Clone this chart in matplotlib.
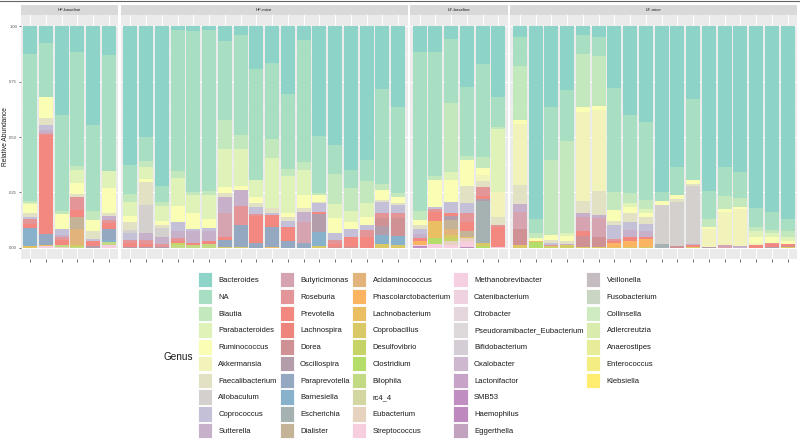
import numpy as np
import pandas as pd
import matplotlib
matplotlib.use("Agg")
import matplotlib.pyplot as plt
from matplotlib.colors import to_rgb, to_hex
from matplotlib.patches import Patch
from matplotlib.lines import Line2D

plt.rcParams['font.family'] = ['Liberation Sans', 'DejaVu Sans']

genus = ["Bacteroides", "NA", "Blautia", "Parabacteroides", "Ruminococcus", "Akkermansia",
         "Faecalibacterium", "Allobaculum", "Coprococcus", "Sutterella", "Butyricimonas",
         "Roseburia", "Prevotella", "Lachnospira", "Dorea", "Oscillospira", "Paraprevotella",
         "Barnesiella", "Escherichia", "Dialister", "Acidaminococcus", "Phascolarctobacterium",
         "Lachnobacterium", "Coprobacillus", "Desulfovibrio", "Clostridium", "Bilophila", "rc4_4",
         "Eubacterium", "Streptococcus", "Methanobrevibacter", "Catenibacterium", "Citrobacter",
         "Pseudoramibacter_Eubacterium", "Bifidobacterium", "Oxalobacter", "Lactonifactor", "SMB53",
         "Haemophilus", "Eggerthella", "Veillonella", "Fusobacterium", "Collinsella",
         "Adlercreutzia", "Anaerostipes", "Enterococcus", "Klebsiella"]

facets = ["HF-baseline", "HF-mice", "LF-baseline", "LF-mice"]

# relative abundance per sample (genera not listed are 0)
hf_baseline = [
    {"Bacteroides": .126, "NA": .662, "Blautia": .008, "Parabacteroides": .005, "Ruminococcus": .04,
     "Faecalibacterium": .02, "Coprococcus": .01, "Roseburia": .02, "Prevotella": .02,
     "Paraprevotella": .005, "Barnesiella": .075, "Lachnobacterium": .005, "Coprobacillus": .004},
    {"Bacteroides": .078, "NA": .242, "Ruminococcus": .096, "Faecalibacterium": .03, "Coprococcus": .022,
     "Sutterella": .012, "Butyricimonas": .005, "Roseburia": .005, "Prevotella": .448,
     "Paraprevotella": .048, "Lachnobacterium": .004, "Streptococcus": .006, "Methanobrevibacter": .004},
    {"Bacteroides": .401, "NA": .432, "Blautia": .014, "Ruminococcus": .069, "Coprococcus": .024,
     "Sutterella": .01, "Roseburia": .015, "Prevotella": .02, "Bilophila": .01, "Eubacterium": .005},
    {"Bacteroides": .116, "NA": .515, "Blautia": .018, "Parabacteroides": .06, "Ruminococcus": .048,
     "Faecalibacterium": .012, "Roseburia": .06, "Prevotella": .033, "Dialister": .054,
     "Acidaminococcus": .07, "Coprobacillus": .004, "Desulfovibrio": .007, "Bilophila": .003},
    {"Bacteroides": .446, "NA": .387, "Blautia": .041, "Ruminococcus": .052, "Faecalibacterium": .035,
     "Coprococcus": .007, "Prevotella": .022, "Oscillospira": .01},
    {"Bacteroides": .131, "NA": .521, "Parabacteroides": .079, "Ruminococcus": .11,
     "Faecalibacterium": .015, "Sutterella": .018, "Roseburia": .015, "Prevotella": .027,
     "Paraprevotella": .048, "Barnesiella": .008, "Bilophila": .014, "Streptococcus": .014},
]

hf_mice = [
    {"Bacteroides": .626, "NA": .132, "Blautia": .033, "Parabacteroides": .065, "Ruminococcus": .025,
     "Faecalibacterium": .038, "Allobaculum": .015, "Coprococcus": .03, "Roseburia": .015,
     "Prevotella": .015, "Oscillospira": .006},
    {"Bacteroides": .501, "NA": .109, "Blautia": .024, "Parabacteroides": .055, "Ruminococcus": .015,
     "Faecalibacterium": .102, "Allobaculum": .128, "Sutterella": .03, "Roseburia": .02,
     "Prevotella": .013, "Oscillospira": .003},
    {"Bacteroides": .719, "NA": .072, "Blautia": .02, "Parabacteroides": .066, "Ruminococcus": .019,
     "Faecalibacterium": .015, "Allobaculum": .041, "Sutterella": .031, "Roseburia": .012,
     "Oscillospira": .005},
    {"Bacteroides": .018, "NA": .634, "Blautia": .034, "Parabacteroides": .125, "Ruminococcus": .073,
     "Coprococcus": .039, "Sutterella": .033, "Roseburia": .012, "Prevotella": .011,
     "Desulfovibrio": .01, "Bilophila": .011},
    {"Bacteroides": .023, "NA": .723, "Blautia": .015, "Parabacteroides": .083, "Ruminococcus": .07,
     "Coprococcus": .012, "Sutterella": .05, "Roseburia": .003, "Prevotella": .006, "Bilophila": .015},
    {"Bacteroides": .018, "NA": .725, "Blautia": .018, "Parabacteroides": .11, "Ruminococcus": .04,
     "Coprococcus": .015, "Sutterella": .042, "Prevotella": .015, "Bilophila": .017},
    {"Bacteroides": .066, "NA": .357, "Blautia": .131, "Parabacteroides": .17, "Ruminococcus": .027,
     "Faecalibacterium": .018, "Sutterella": .075, "Butyricimonas": .105, "Prevotella": .015,
     "Paraprevotella": .03, "Coprobacillus": .006},
    {"Bacteroides": .041, "NA": .45, "Blautia": .063, "Parabacteroides": .167, "Ruminococcus": .018,
     "Sutterella": .072, "Roseburia": .085, "Paraprevotella": .098, "Coprobacillus": .006},
    {"Bacteroides": .194, "NA": .5, "Parabacteroides": .075, "Ruminococcus": .03,
     "Faecalibacterium": .018, "Coprococcus": .03, "Roseburia": .01, "Prevotella": .122,
     "Paraprevotella": .021},
    {"Bacteroides": .165, "NA": .345, "Blautia": .083, "Parabacteroides": .228,
     "Faecalibacterium": .02, "Coprococcus": .01, "Prevotella": .053, "Paraprevotella": .093,
     "Lachnobacterium": .003},
    {"Bacteroides": .306, "NA": .34, "Blautia": .028, "Parabacteroides": .17, "Ruminococcus": .015,
     "Faecalibacterium": .018, "Coprococcus": .027, "Prevotella": .067, "Paraprevotella": .029},
    {"Bacteroides": .063, "NA": .548, "Blautia": .038, "Parabacteroides": .112, "Ruminococcus": .06,
     "Faecalibacterium": .015, "Sutterella": .045, "Butyricimonas": .098, "Paraprevotella": .021},
    {"Bacteroides": .495, "NA": .259, "Blautia": .008, "Ruminococcus": .03, "Faecalibacterium": .005,
     "Coprococcus": .04, "Prevotella": .011, "Oscillospira": .082, "Barnesiella": .063,
     "Coprobacillus": .007},
    {"Bacteroides": .536, "NA": .131, "Blautia": .135, "Parabacteroides": .064, "Ruminococcus": .068,
     "Coprococcus": .03, "Roseburia": .02, "Prevotella": .013, "Dorea": .003},
    {"Bacteroides": .649, "NA": .082, "Blautia": .102, "Parabacteroides": .05, "Ruminococcus": .031,
     "Coprococcus": .035, "Prevotella": .048, "Dorea": .003},
    {"Bacteroides": .604, "NA": .093, "Blautia": .102, "Parabacteroides": .063, "Ruminococcus": .034,
     "Coprococcus": .023, "Roseburia": .03, "Prevotella": .051},
    {"Bacteroides": .285, "NA": .427, "Blautia": .027, "Ruminococcus": .045, "Faecalibacterium": .007,
     "Coprococcus": .05, "Roseburia": .025, "Dorea": .033, "Oscillospira": .042, "Barnesiella": .041,
     "Coprobacillus": .018},
    {"Bacteroides": .366, "NA": .388, "Blautia": .015, "Ruminococcus": .03, "Faecalibacterium": .007,
     "Coprococcus": .035, "Roseburia": .025, "Dorea": .08, "Barnesiella": .04, "Coprobacillus": .014},
]

lf_baseline = [
    {"Bacteroides": .116, "NA": .717, "Blautia": .041, "Ruminococcus": .022, "Faecalibacterium": .018,
     "Coprococcus": .022, "Sutterella": .02, "Prevotella": .015, "Phascolarctobacterium": .015,
     "Streptococcus": .007, "SMB53": .007},
    {"Bacteroides": .116, "NA": .56, "Blautia": .018, "Ruminococcus": .12, "Coprococcus": .01,
     "Roseburia": .015, "Prevotella": .038, "Lachnobacterium": .08, "Clostridium": .025,
     "Streptococcus": .018},
    {"Bacteroides": .06, "NA": .288, "Blautia": .308, "Parabacteroides": .038, "Ruminococcus": .097,
     "Coprococcus": .05, "Prevotella": .015, "Oscillospira": .018, "Dialister": .042,
     "Acidaminococcus": .025, "Coprobacillus": .015, "Desulfovibrio": .015, "Eubacterium": .014,
     "Streptococcus": .015},
    {"Bacteroides": .276, "NA": .31, "Blautia": .018, "Ruminococcus": .117, "Faecalibacterium": .078,
     "Coprococcus": .045, "Roseburia": .037, "Prevotella": .041, "Dialister": .027,
     "Lachnobacterium": .006, "Eubacterium": .015, "Streptococcus": .025, "SMB53": .005},
    {"Bacteroides": .171, "NA": .421, "Blautia": .049, "Ruminococcus": .03, "Akkermansia": .027,
     "Faecalibacterium": .026, "Roseburia": .042, "Prevotella": .015, "Oscillospira": .009,
     "Escherichia": .186, "Coprobacillus": .014, "Clostridium": .01},
    {"Bacteroides": .319, "NA": .134, "Blautia": .01, "Parabacteroides": .283, "Akkermansia": .113,
     "Faecalibacterium": .037, "Roseburia": .01, "Prevotella": .088, "Streptococcus": .006},
]

lf_mice = [
    {"Bacteroides": .051, "NA": .129, "Blautia": .243, "Ruminococcus": .018, "Akkermansia": .275,
     "Faecalibacterium": .086, "Sutterella": .034, "Butyricimonas": .078, "Dorea": .072,
     "Lachnobacterium": .007, "Coprobacillus": .007},
    {"Bacteroides": .869, "NA": .065, "Blautia": .022, "Ruminococcus": .015, "Lachnobacterium": .003,
     "Clostridium": .026},
    {"Bacteroides": .366, "NA": .238, "Blautia": .337, "Ruminococcus": .023, "Faecalibacterium": .015,
     "Coprococcus": .006, "Roseburia": .005, "Coprobacillus": .005, "Desulfovibrio": .005},
    {"Bacteroides": .288, "NA": .23, "Blautia": .416, "Parabacteroides": .012, "Ruminococcus": .025,
     "Faecalibacterium": .01, "Sutterella": .006, "Coprobacillus": .008, "Desulfovibrio": .005},
    {"Bacteroides": .041, "NA": .085, "Blautia": .24, "Ruminococcus": .023, "Akkermansia": .399,
     "Faecalibacterium": .056, "Sutterella": .018, "Butyricimonas": .064, "Prevotella": .02,
     "Dorea": .048, "Coprobacillus": .006},
    {"Bacteroides": .051, "NA": .084, "Blautia": .225, "Ruminococcus": .018, "Akkermansia": .365,
     "Faecalibacterium": .108, "Sutterella": .014, "Butyricimonas": .087, "Dorea": .045,
     "Coprobacillus": .003},
    {"Bacteroides": .281, "NA": .465, "Blautia": .083, "Ruminococcus": .049, "Faecalibacterium": .018,
     "Coprococcus": .065, "Roseburia": .009, "Prevotella": .009, "Phascolarctobacterium": .015,
     "Lachnobacterium": .006},
    {"Bacteroides": .401, "NA": .353, "Blautia": .042, "Parabacteroides": .018, "Ruminococcus": .03,
     "Faecalibacterium": .037, "Coprococcus": .038, "Sutterella": .033, "Prevotella": .015,
     "Phascolarctobacterium": .03, "Coprobacillus": .003},
    {"Bacteroides": .431, "NA": .353, "Blautia": .04, "Parabacteroides": .017, "Ruminococcus": .021,
     "Faecalibacterium": .03, "Coprococcus": .03, "Sutterella": .03, "Prevotella": .009,
     "Phascolarctobacterium": .036, "Coprobacillus": .003},
    {"Bacteroides": .746, "NA": .042, "Ruminococcus": .018, "Allobaculum": .176, "Escherichia": .018},
    {"Bacteroides": .634, "NA": .127, "Ruminococcus": .02, "Faecalibacterium": .01, "Allobaculum": .2,
     "Dorea": .009},
    {"Bacteroides": .329, "NA": .365, "Ruminococcus": .018, "Faecalibacterium": .009,
     "Allobaculum": .262, "Sutterella": .005, "Prevotella": .007, "Coprobacillus": .005},
    {"Bacteroides": .743, "NA": .128, "Blautia": .036, "Ruminococcus": .009, "Akkermansia": .078,
     "Oscillospira": .006},
    {"Bacteroides": .634, "NA": .132, "Blautia": .058, "Ruminococcus": .012, "Akkermansia": .15,
     "Butyricimonas": .014},
    {"Bacteroides": .659, "NA": .117, "Blautia": .038, "Ruminococcus": .01, "Akkermansia": .167,
     "Sutterella": .009},
    {"Bacteroides": .821, "NA": .083, "Blautia": .022, "Parabacteroides": .026, "Ruminococcus": .027,
     "Akkermansia": .006, "Roseburia": .003, "Prevotella": .012},
    {"Bacteroides": .836, "NA": .083, "Blautia": .015, "Parabacteroides": .018, "Ruminococcus": .024,
     "Roseburia": .008, "Prevotella": .01, "Oscillospira": .006},
    {"Bacteroides": .871, "NA": .055, "Blautia": .023, "Parabacteroides": .019, "Ruminococcus": .015,
     "Prevotella": .008, "Dorea": .007, "Coprobacillus": .002},
]

samples = [hf_baseline, hf_mice, lf_baseline, lf_mice]

# palette: Set3 stretched over all genera (like colorRampPalette)
set3 = ["#8DD3C7", "#FFFFB3", "#BEBADA", "#FB8072", "#80B1D3", "#FDB462",
        "#B3DE69", "#FCCDE5", "#D9D9D9", "#BC80BD", "#CCEBC5", "#FFED6F"]
anchors = np.array([to_rgb(c) for c in set3])
pos = np.linspace(0, len(set3) - 1, len(genus))
palette = [to_hex([np.interp(p, np.arange(len(set3)), anchors[:, k]) for k in range(3)]) for p in pos]
colors = dict(zip(genus, palette))

W, H = 800, 444
fig = plt.figure(figsize=(W / 100, H / 100), dpi=100)

unit, gap = 15.75, 2.6
left = 20.7
top_px, bot_px = 15, 259

for i, (name, data) in enumerate(zip(facets, samples)):
    df = pd.DataFrame(data).reindex(columns=genus).fillna(0)
    n = len(df)
    w = (n + 0.2) * unit
    ax = fig.add_axes([left / W, 1 - bot_px / H, w / W, (bot_px - top_px) / H])
    ax.set_facecolor("#EBEBEB")
    x = np.arange(n)
    bottom = np.zeros(n)
    for g in reversed(genus):
        vals = df[g].values
        if vals.sum() > 0:
            ax.bar(x, vals, 0.9, bottom=bottom, color=colors[g], linewidth=0)
        bottom += vals
    ax.set_xlim(-0.6, n - 0.4)
    ax.set_ylim(-0.05, 1.05)
    ax.set_yticks([0, 0.25, 0.5, 0.75, 1.0])
    ax.set_yticks([0.125, 0.375, 0.625, 0.875], minor=True)
    ax.set_xticks(x)
    ax.set_xticklabels([""] * n)
    ax.grid(True, which="major", color="white", linewidth=0.7)
    ax.grid(True, which="minor", axis="y", color="white", linewidth=0.35)
    ax.set_axisbelow(True)
    for s in ax.spines.values():
        s.set_visible(False)
    ax.tick_params(axis="x", length=2, width=0.5, color="#333333")
    ax.tick_params(which="minor", length=0)
    if i == 0:
        ax.set_yticklabels(["0.00", "0.25", "0.50", "0.75", "1.00"], fontsize=3, color="#4D4D4D")
        ax.tick_params(axis="y", length=1.5, width=0.5, color="#333333", pad=1)
    else:
        ax.tick_params(axis="y", length=0, labelleft=False)

    sax = fig.add_axes([left / W, 1 - top_px / H, w / W, 10 / H])
    sax.set_facecolor("#D9D9D9")
    sax.set_xticks([])
    sax.set_yticks([])
    for s in sax.spines.values():
        s.set_visible(False)
    sax.text(0.5, 0.5, name, ha="center", va="center", fontsize=3.2, color="#1A1A1A",
             transform=sax.transAxes)
    left += w + gap

fig.text(6 / W, 1 - 137 / H, "Relative Abundance", rotation=90, ha="center", va="center",
         fontsize=4.8, color="#1A1A1A")

# legend: 10 rows per column, last column padded with blank entries
handles = [Patch(facecolor=colors[g], edgecolor="white", linewidth=0.6) for g in genus]
labels = list(genus)
while len(handles) % 10:
    handles.append(Patch(alpha=0))
    labels.append("")
fig.legend(handles, labels, ncol=5, loc="upper left", bbox_to_anchor=(198 / W, 1 - 272 / H),
           frameon=False, fontsize=5.5, handlelength=1.85, handleheight=2.74,
           handletextpad=0.83, columnspacing=0.35, labelspacing=0.17,
           borderpad=0, borderaxespad=0, labelcolor="#1A1A1A")
fig.text(164 / W, 1 - 357 / H, "Genus", ha="left", va="center", fontsize=7.2, color="#1A1A1A")

fig.add_artist(Line2D([0, 1], [1 - 1.5 / H, 1 - 1.5 / H], color="#666666", linewidth=0.8))

fig.savefig("out.png", dpi=100)
